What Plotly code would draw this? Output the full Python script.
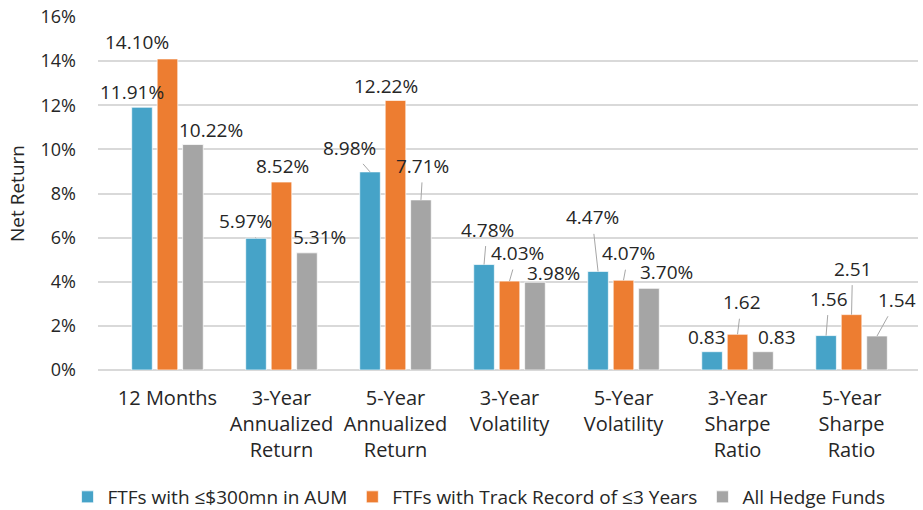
import plotly.graph_objects as go

categories = ["12 Months", "3-Year<br>Annualized<br>Return", "5-Year<br>Annualized<br>Return",
              "3-Year<br>Volatility", "5-Year<br>Volatility", "3-Year<br>Sharpe<br>Ratio",
              "5-Year<br>Sharpe<br>Ratio"]
series_names = ["FTFs with ≤$300mn in AUM", "FTFs with Track Record of ≤3 Years", "All Hedge Funds"]
small_aum = [11.91, 5.97, 8.98, 4.78, 4.47, 0.83, 1.56]
track_record = [14.10, 8.52, 12.22, 4.03, 4.07, 1.62, 2.51]
all_hf = [10.22, 5.31, 7.71, 3.98, 3.70, 0.83, 1.54]
label_texts = [
    ["11.91%", "5.97%", "8.98%", "4.78%", "4.47%", "0.83", "1.56"],
    ["14.10%", "8.52%", "12.22%", "4.03%", "4.07%", "1.62", "2.51"],
    ["10.22%", "5.31%", "7.71%", "3.98%", "3.70%", "0.83", "1.54"],
]
y_ticks = [0, 2, 4, 6, 8, 10, 12, 14, 16]
y_tick_labels = ["0%", "2%", "4%", "6%", "8%", "10%", "12%", "14%", "16%"]

# label placement (pixel offsets from bar top) and leader-line flags
label_offsets = [
    [(-10, -15), (-11, -17), (-21, -24), (3, -35), (-6, -54), (-5, -15), (3, -37)],
    [(-30, -17), (1, -16), (-9, -14), (8, -28), (5, -27), (4, -32), (1, -46)],
    [(18, -15), (13, -16), (2, -34), (19, -9), (18, -16), (14, -15), (20, -36)],
]
leaders = [
    [False, True, True, True, True, False, True],
    [False, False, False, True, True, True, True],
    [False, False, True, False, False, False, True],
]

colors = ["#46A3C8", "#ED7D31", "#A5A5A5"]
values = [small_aum, track_record, all_hf]
FONT = "Open Sans"
TXT = "#262626"
bargap = 0.33

fig = go.Figure()
for name, vals, col in zip(series_names, values, colors):
    fig.add_trace(go.Bar(
        x=categories, y=vals, name=name,
        marker=dict(color=col, line=dict(color="rgba(255,255,255,0.7)", width=1)),
    ))

slot = (1 - bargap) / 3
annotations = []
for s in range(3):
    for i in range(len(categories)):
        ax, ay = label_offsets[s][i]
        annotations.append(dict(
            x=i + (s - 1) * slot, y=values[s][i], xref="x", yref="y",
            text=label_texts[s][i], showarrow=True, arrowhead=0, arrowwidth=1,
            arrowcolor="#A6A6A6" if leaders[s][i] else "rgba(0,0,0,0)",
            ax=ax, ay=ay, standoff=0, startstandoff=2,
            font=dict(family=FONT, size=19, color=TXT),
        ))

fig.update_layout(
    width=923, height=510,
    margin=dict(l=98, r=5, t=17, b=140),
    paper_bgcolor="white", plot_bgcolor="white",
    barmode="group", bargap=bargap, bargroupgap=0.19,
    font=dict(family=FONT, size=19, color=TXT),
    showlegend=True,
    legend=dict(orientation="h", xref="container", yref="container",
                x=0.519, y=0.0255, xanchor="center", yanchor="middle",
                font=dict(family=FONT, size=19, color=TXT),
                itemwidth=30, tracegroupgap=0),
    annotations=annotations,
    xaxis=dict(showgrid=False, showline=False, ticks="", automargin=False,
               ticklabelstandoff=14,
               tickfont=dict(family=FONT, size=20, color=TXT)),
    yaxis=dict(range=[0, 16], tickvals=y_ticks, ticktext=y_tick_labels,
               showgrid=True, gridcolor="#D9D9D9", gridwidth=1.5,
               zeroline=True, zerolinecolor="#D9D9D9", zerolinewidth=1.5,
               showline=False, ticks="", ticklabelstandoff=21, automargin=False,
               tickfont=dict(family=FONT, size=18, color=TXT),
               title=dict(text="Net Return", font=dict(family=FONT, size=19, color=TXT), standoff=10)),
)

fig.write_html("out.html", config={"displayModeBar": False},
               post_script="document.body.style.margin='0';")
